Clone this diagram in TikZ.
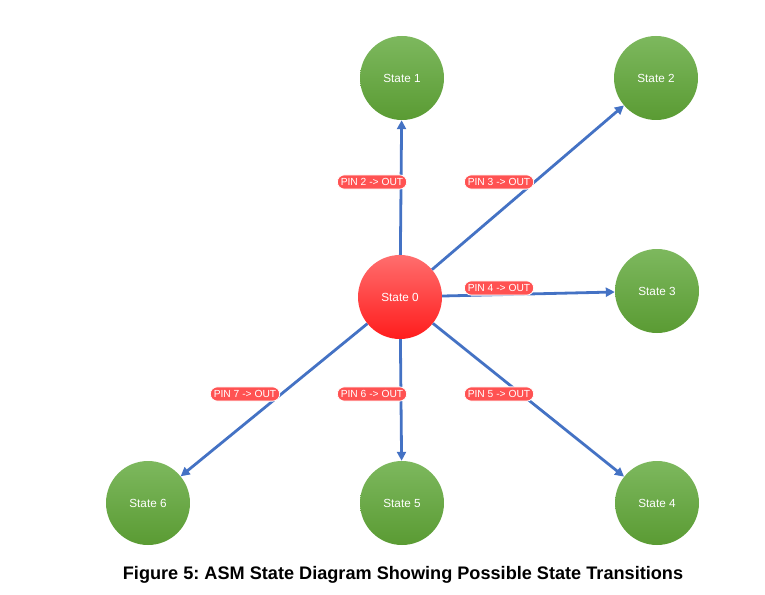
\documentclass[tikz,border=0pt]{standalone}
\usepackage{fontspec}
\setmainfont{Liberation Sans}
\usepackage{xcolor}
\usetikzlibrary{arrows.meta,shapes.misc}
\definecolor{greentop}{HTML}{7DB85E}
\definecolor{greenbot}{HTML}{5A9B33}
\definecolor{redtop}{HTML}{FF6E6E}
\definecolor{redbot}{HTML}{FF1C1C}
\definecolor{pinred}{HTML}{FF5252}
\definecolor{edgeblue}{HTML}{4472C4}
\frenchspacing

\begin{document}
\begin{tikzpicture}[x=1bp,y=-1bp,
  state/.style={circle,minimum size=84bp,inner sep=0pt,top color=greentop,bottom color=greenbot,text=white,font=\fontsize{11.8}{13}\selectfont},
  initstate/.style={state,top color=redtop,bottom color=redbot},
  pinlabel/.style={rounded rectangle,fill=pinred,draw=white,line width=0.8bp,text=white,inner xsep=2.5bp,inner ysep=3.5bp,font=\fontsize{10.3}{11}\selectfont},
  trans/.style={edgeblue,line width=2.8bp,-{Triangle[length=9bp,width=9bp]}}]
  \useasboundingbox (0,0) rectangle (765,595);

  % States
  \node[initstate] (s0) at (400,297) {State 0};
  \node[state] (s1) at (402,78) {State 1};
  \node[state] (s2) at (656,78) {State 2};
  \node[state] (s3) at (657,291) {State 3};
  \node[state] (s4) at (657,503) {State 4};
  \node[state] (s5) at (402,503) {State 5};
  \node[state] (s6) at (148,503) {State 6};

  % Transitions
  \foreach \t in {1,...,6} {
    \draw[trans] (s0) -- (s\t);
  }

  % Pin labels
  \node[pinlabel] (p2) at (372,182) {PIN 2 -> OUT};
  \node[pinlabel] (p3) at (499,182) {PIN 3 -> OUT};
  \node[pinlabel] (p4) at (499,288) {PIN 4 -> OUT};
  \node[pinlabel] (p5) at (499,394) {PIN 5 -> OUT};
  \node[pinlabel] (p6) at (372,394) {PIN 6 -> OUT};
  \node[pinlabel] (p7) at (245,394) {PIN 7 -> OUT};

  % Caption
  \node[font=\bfseries\fontsize{18.2}{20}\selectfont] (cap) at (403,575) {Figure 5: ASM State Diagram Showing Possible State Transitions};
\end{tikzpicture}
\end{document}
